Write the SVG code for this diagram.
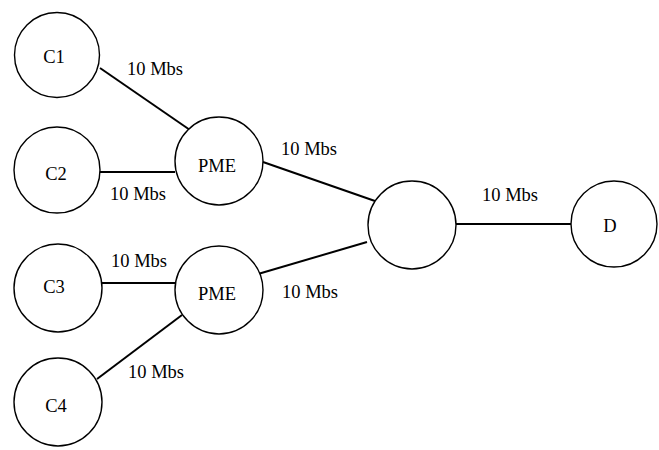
<svg xmlns="http://www.w3.org/2000/svg" width="659" height="450" viewBox="0 0 659 450">
<style>
.node{fill:#fff;stroke:#000;stroke-width:1.4}
.edge{stroke:#000;stroke-width:2;fill:none}
text{font-family:"Liberation Serif","Times New Roman",serif;font-size:18.5px;fill:#000}
.nl{text-anchor:middle}
</style>
<rect width="659" height="450" fill="#fff"/>
<g id="connectors">
<line class="edge" x1="100" y1="68" x2="190" y2="130"/>
<line class="edge" x1="100" y1="172" x2="175" y2="172"/>
<line class="edge" x1="263" y1="162" x2="375" y2="201"/>
<line class="edge" x1="258" y1="274" x2="367" y2="242"/>
<line class="edge" x1="102" y1="283" x2="175" y2="283"/>
<line class="edge" x1="97" y1="379" x2="182" y2="315"/>
<line class="edge" x1="456" y1="224" x2="571" y2="224"/>
<text x="127" y="75">10 Mbs</text>
<text x="110" y="200">10 Mbs</text>
<text x="281" y="155">10 Mbs</text>
<text x="482" y="201">10 Mbs</text>
<text x="111" y="267">10 Mbs</text>
<text x="282" y="298">10 Mbs</text>
<text x="128" y="378">10 Mbs</text>
</g>
<g id="C1"><circle class="node" cx="57" cy="55" r="42.5"/><text class="nl" x="54" y="63">C1</text></g>
<g id="C2"><circle class="node" cx="57" cy="170" r="43"/><text class="nl" x="56" y="180">C2</text></g>
<g id="PME1"><circle class="node" cx="219" cy="161" r="44"/><text class="nl" x="217" y="172">PME</text></g>
<g id="C3"><circle class="node" cx="58" cy="288" r="44"/><text class="nl" x="54" y="293">C3</text></g>
<g id="PME2"><circle class="node" cx="219" cy="290" r="44"/><text class="nl" x="217" y="300">PME</text></g>
<g id="C4"><circle class="node" cx="58" cy="402" r="44"/><text class="nl" x="56" y="412">C4</text></g>
<g id="Hub"><circle class="node" cx="412" cy="225" r="44"/></g>
<g id="D"><circle class="node" cx="614" cy="224" r="43"/><text class="nl" x="610" y="232">D</text></g>
</svg>
